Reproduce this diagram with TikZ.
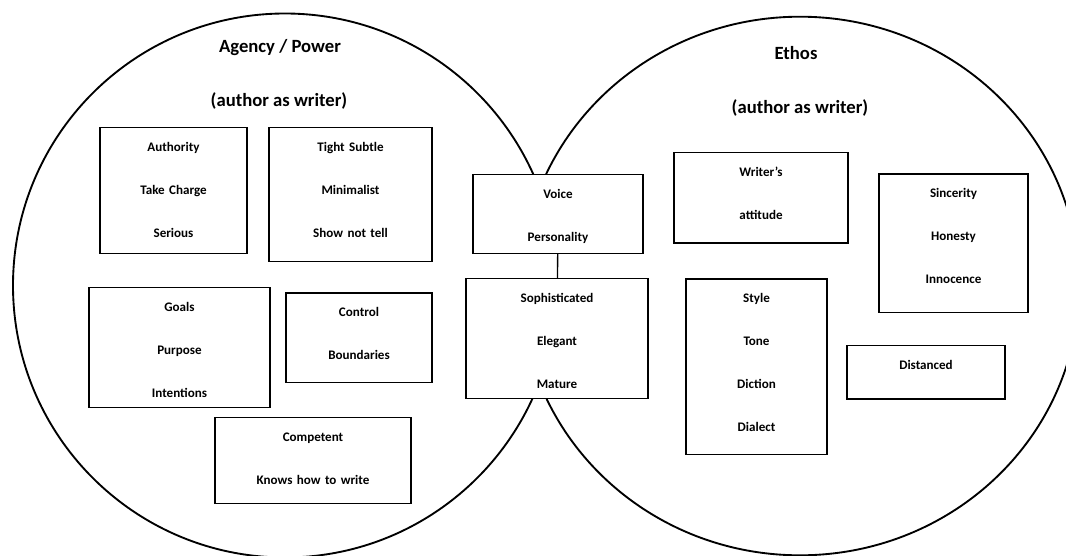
\documentclass[tikz,border=0pt]{standalone}
\usepackage{fontspec}
\setmainfont{Carlito}
\usepackage{tikz}

\begin{document}
\begin{tikzpicture}[x=0.75pt,y=-0.75pt,
    ring/.style={line width=1.4pt},
    title/.style={font=\fontsize{14}{17}\selectfont\bfseries},
    item/.style={draw,line width=1pt,fill=white,anchor=north,align=center,
                 inner xsep=0pt,inner ysep=0pt,text height=18pt,
                 font=\fontsize{9.8}{32.25}\selectfont\bfseries},
    link/.style={line width=1pt}]
  \useasboundingbox (0,0) rectangle (1066,556);

  % the two circles
  \draw[ring] (285,285.5) ellipse[x radius=272, y radius=272];
  \draw[ring] (800,286) ellipse[x radius=279, y radius=269.3];

  \node[title] (agency) at (280,47.7) {Agency / Power};
  \node[title] (agencysub) at (279,101) {(author as writer)};
  \node[title] (ethos) at (796,53.3) {Ethos};
  \node[title] (ethossub) at (800,107.7) {(author as writer)};

  % left circle
  \node[item,text width=110.25pt,text depth=76.5pt] (authority) at (173.5,126.7) {Authority\\Take Charge\\Serious};
  \node[item,text width=122.25pt,text depth=82.7pt] (subtle) at (350.5,126.7) {Tight Subtle\\Minimalist\\Show not tell};
  \node[item,text width=135.75pt,text depth=72.2pt] (goals) at (179.5,286.7) {Goals\\Purpose\\Intentions};
  \node[item,text width=109.5pt,text depth=49.3pt] (control) at (359,292.3) {Control\\Boundaries};
  \node[item,text width=147pt,text depth=46.5pt] (competent) at (313,416.7) {Competent\\Knows how to write};

  % overlap
  \node[item,text width=127.5pt,text depth=41pt] (voice) at (558,174) {Voice\\Personality};
  \node[item,text width=136.5pt,text depth=72pt] (sophisticated) at (557,278) {Sophisticated\\Elegant\\Mature};
  \fill[white] (voice.south west) rectangle (sophisticated.north east);
  \draw[link] (voice) -- (sophisticated);

  % right circle
  \node[item,text width=130.5pt,text depth=50pt] (attitude) at (761,151.7) {Writer’s\\attitude};
  \node[item,text width=111.75pt,text depth=86pt] (sincerity) at (953.5,173.3) {Sincerity\\Honesty\\Innocence};
  \node[item,text width=105.75pt,text depth=113.8pt] (style) at (756.5,278.3) {Style\\Tone\\Diction\\Dialect};
  \node[item,text width=118.5pt,text depth=22.2pt] (distanced) at (926,344.7) {Distanced};
\end{tikzpicture}
\end{document}
